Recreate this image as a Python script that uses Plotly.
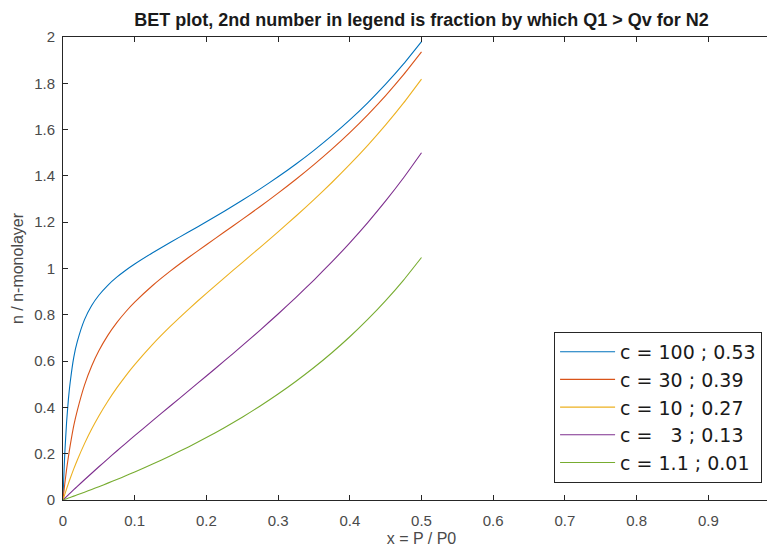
import plotly.graph_objects as go

# Relative pressure x = P/P0
x_vals = [0, 0.001, 0.0025, 0.005, 0.0075, 0.01, 0.015, 0.02, 0.03, 0.04, 0.05,
          0.0625, 0.075, 0.0875, 0.1, 0.125, 0.15, 0.175, 0.2, 0.225, 0.25,
          0.275, 0.3, 0.325, 0.35, 0.375, 0.4, 0.425, 0.45, 0.475, 0.5]

# n / n-monolayer
y_c100 = [0, 0.0911, 0.2009, 0.3361, 0.4337, 0.5076, 0.6165, 0.6848, 0.7790, 0.8401, 0.8846,
          0.9275, 0.9624, 0.9924, 1.0194, 1.0681, 1.1134, 1.1575, 1.2019, 1.2474, 1.2945,
          1.3439, 1.3960, 1.4513, 1.5104, 1.5738, 1.6420, 1.7159, 1.7962, 1.8839, 1.9802]
y_c30 = [0, 0.0292, 0.0701, 0.1322, 0.1862, 0.2349, 0.3217, 0.3875, 0.4962, 0.5787, 0.6445,
         0.7111, 0.7661, 0.8132, 0.8547, 0.9266, 0.9896, 1.0475, 1.1029, 1.1574, 1.2121,
         1.2679, 1.3255, 1.3856, 1.4488, 1.5158, 1.5873, 1.6641, 1.7470, 1.8371, 1.9355]
y_c10 = [0, 0.0099, 0.0245, 0.0481, 0.0708, 0.0927, 0.1342, 0.1729, 0.2435, 0.3064, 0.3630,
         0.4267, 0.4841, 0.5365, 0.5848, 0.6723, 0.7509, 0.8238, 0.8929, 0.9597, 1.0256,
         1.0915, 1.1583, 1.2267, 1.2975, 1.3714, 1.4493, 1.5319, 1.6202, 1.7152, 1.8182]
y_c3 = [0, 0.0030, 0.0075, 0.0149, 0.0223, 0.0297, 0.0444, 0.0589, 0.0875, 0.1157, 0.1435,
        0.1778, 0.2115, 0.2448, 0.2778, 0.3429, 0.4072, 0.4714, 0.5357, 0.6007, 0.6667,
        0.7341, 0.8036, 0.8754, 0.9502, 1.0286, 1.1111, 1.1986, 1.2919, 1.3919, 1.5000]
y_c1_1 = [0, 0.0011, 0.0028, 0.0055, 0.0083, 0.0111, 0.0167, 0.0224, 0.0339, 0.0457, 0.0576,
          0.0729, 0.0885, 0.1046, 0.1210, 0.1552, 0.1912, 0.2293, 0.2696, 0.3123, 0.3577,
          0.4061, 0.4577, 0.5130, 0.5723, 0.6361, 0.7051, 0.7799, 0.8612, 0.9501, 1.0476]

series_names = ["c = 100 ; 0.53", "c = 30 ; 0.39", "c = 10 ; 0.27",
                "c = \u00a0\u00a03 ; 0.13", "c = 1.1 ; 0.01"]
series_values = [y_c100, y_c30, y_c10, y_c3, y_c1_1]
colors = ["#0072BD", "#D95319", "#EDB120", "#7E2F8E", "#77AC30"]

x_ticks = [0, 0.1, 0.2, 0.3, 0.4, 0.5, 0.6, 0.7, 0.8, 0.9, 1]
x_tick_labels = ["0", "0.1", "0.2", "0.3", "0.4", "0.5", "0.6", "0.7", "0.8", "0.9", "1"]
y_ticks = [0, 0.2, 0.4, 0.6, 0.8, 1, 1.2, 1.4, 1.6, 1.8, 2]
y_tick_labels = ["0", "0.2", "0.4", "0.6", "0.8", "1", "1.2", "1.4", "1.6", "1.8", "2"]

FONT = "Liberation Sans, Arial, Helvetica, sans-serif"
LEG_FONT = "DejaVu Sans, Liberation Sans, sans-serif"
AX = "#262626"
TXT = "#4a4a4a"

fig = go.Figure()
for name, ys, col in zip(series_names, series_values, colors):
    fig.add_trace(go.Scatter(x=x_vals, y=ys, mode="lines", name=name,
                             line=dict(color=col, width=1.1, shape="spline", smoothing=0.5)))

# the page body adds an 8px offset; the axes box runs past the right window edge as in the reference
fig.update_layout(
    width=775, height=550,
    margin=dict(l=55, r=3, t=29, b=58),
    paper_bgcolor="white", plot_bgcolor="white",
    font=dict(family=FONT, color=TXT),
    title=dict(text="<b>BET plot, 2nd number in legend is fraction by which Q1 > Qv for N2</b>",
               x=0.5, xref="paper", xanchor="center",
               y=1 - 12 / 550, yref="container", yanchor="middle",
               font=dict(size=18, color="#1a1a1a", family=FONT)),
    showlegend=True,
    legend=dict(x=0.975, y=0.037, xanchor="right", yanchor="bottom",
                bgcolor="white", bordercolor=AX, borderwidth=1,
                font=dict(size=19, color="#1a1a1a", family=LEG_FONT),
                itemwidth=55, tracegroupgap=0),
)

fig.update_xaxes(range=[0, 1], tickvals=x_ticks, ticktext=x_tick_labels,
                 showgrid=False, zeroline=False, showline=True, linecolor=AX, linewidth=1,
                 mirror="ticks", ticks="inside", ticklen=5, tickcolor=AX,
                 tickfont=dict(size=15, color=TXT), ticklabelstandoff=7, automargin=False,
                 title=dict(text="x = P / P0", font=dict(size=16, color=TXT), standoff=4))
fig.update_yaxes(range=[0, 2], tickvals=y_ticks, ticktext=y_tick_labels,
                 showgrid=False, zeroline=False, showline=True, linecolor=AX, linewidth=1,
                 mirror="ticks", ticks="inside", ticklen=5, tickcolor=AX,
                 tickfont=dict(size=15, color=TXT), ticklabelstandoff=4, automargin=False,
                 title=dict(text="n / n-monolayer", font=dict(size=16, color=TXT), standoff=6))

fig.write_html("out.html")
